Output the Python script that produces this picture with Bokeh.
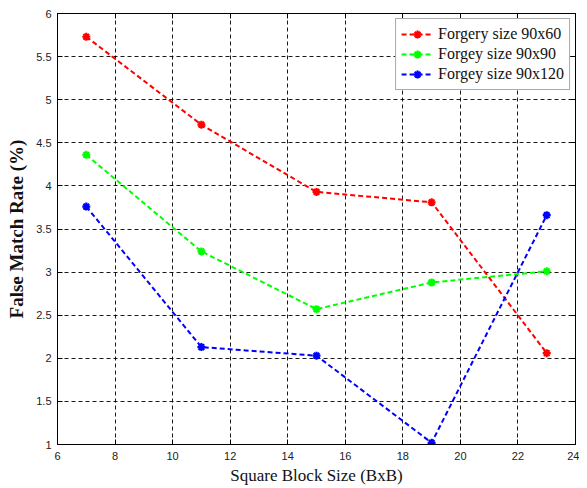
from bokeh.plotting import figure
from bokeh.models import LinearAxis, FixedTicker, Legend, LegendItem, Range1d, CustomJSTickFormatter
from bokeh.embed import file_html
from bokeh.resources import INLINE

block_sizes = [7, 11, 15, 19, 23]
forgery_90x60 = [5.73, 4.71, 3.93, 3.81, 2.06]
forgery_90x90 = [4.36, 3.24, 2.57, 2.88, 3.01]
forgery_90x120 = [3.76, 2.13, 2.03, 1.02, 3.66]
series_labels = ["Forgery size 90x60", "Forgey size 90x90", "Forgey size 90x120"]
series_colors = ["#ff0000", "#00ff00", "#0000ff"]
x_ticks = [6, 8, 10, 12, 14, 16, 18, 20, 22, 24]
y_ticks = [1, 1.5, 2, 2.5, 3, 3.5, 4, 4.5, 5, 5.5, 6]

p = figure(width=579, height=487, output_backend="svg", toolbar_location=None,
           x_range=Range1d(6, 24), y_range=Range1d(1, 6),
           min_border_left=57, min_border_right=4, min_border_top=13, min_border_bottom=34)
p.background_fill_color = "white"
p.border_fill_color = "white"
p.outline_line_color = "black"
p.outline_line_width = 1

for ax, ticks in ((p.xaxis[0], x_ticks), (p.yaxis[0], y_ticks)):
    ax.ticker = FixedTicker(ticks=ticks)
    ax.major_tick_in = 5
    ax.major_tick_out = 0
    ax.minor_tick_line_color = None
    ax.axis_line_color = "black"
    ax.major_label_text_font = "Liberation Sans"
    ax.major_label_text_font_size = "11px"
    ax.major_label_text_color = "#222222"
    ax.axis_label_text_font = "Liberation Serif"
    ax.axis_label_text_font_style = "normal"
    ax.axis_label_text_color = "#111111"

p.xaxis.major_label_standoff = 7
p.xaxis.axis_label_standoff = 3
p.yaxis.major_label_standoff = 6
p.yaxis.axis_label_standoff = 6
p.xaxis.axis_label = "Square Block Size (BxB)"
p.xaxis.axis_label_text_font_size = "17px"
p.yaxis.axis_label = "False Match Rate (%)"
p.yaxis.axis_label_text_font_size = "19px"
p.yaxis.axis_label_text_font_style = "bold"

blank = CustomJSTickFormatter(code="return ''")
for loc, ticks in (("above", x_ticks), ("right", y_ticks)):
    ax = LinearAxis(ticker=FixedTicker(ticks=ticks), major_tick_in=5, major_tick_out=0,
                    minor_tick_line_color=None, formatter=blank,
                    major_label_standoff=0, axis_line_color="black")
    p.add_layout(ax, loc)

p.xgrid.ticker = FixedTicker(ticks=x_ticks)
p.ygrid.ticker = FixedTicker(ticks=y_ticks)
for g in (p.xgrid[0], p.ygrid[0]):
    g.grid_line_color = "black"
    g.grid_line_dash = "4 3"
    g.grid_line_width = 1
    g.grid_line_alpha = 0.9

items = []
for ys, lab, col in zip([forgery_90x60, forgery_90x90, forgery_90x120], series_labels, series_colors):
    r1 = p.line(block_sizes, ys, line_color=col, line_width=2, line_dash="5 3")
    r2 = p.scatter(block_sizes, ys, marker="asterisk", size=8, line_color=col, line_width=2.2)
    items.append(LegendItem(label=lab, renderers=[r1, r2]))

legend = Legend(items=items, location="top_right")
legend.label_text_font = "Liberation Serif"
legend.label_text_font_size = "16px"
legend.label_text_color = "#111111"
legend.border_line_color = "#555555"
legend.border_line_width = 1.5
legend.background_fill_color = "white"
legend.background_fill_alpha = 1
legend.spacing = 0
legend.padding = 5
legend.margin = 5
legend.glyph_width = 32
legend.label_standoff = 5
legend.label_height = 20
legend.glyph_height = 20
p.add_layout(legend, "center")

open("out.html", "w").write(file_html(p, INLINE))
